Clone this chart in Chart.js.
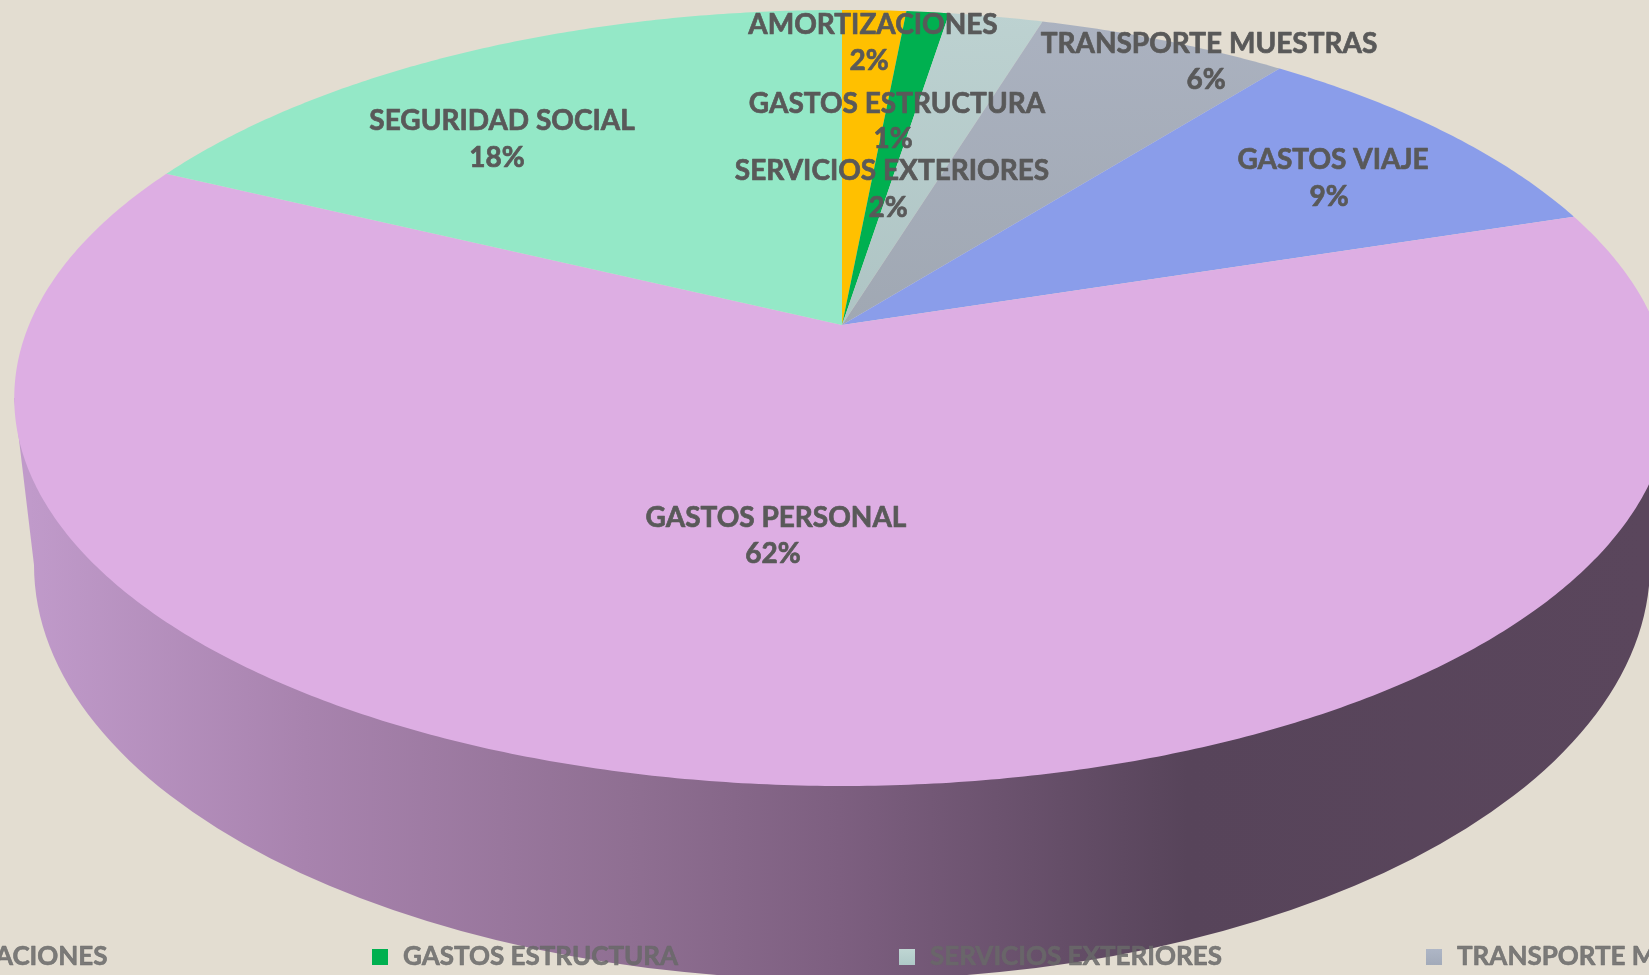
<!DOCTYPE html>
<html>
<head>
<meta charset="UTF-8">
<title>Gastos</title>
<script src="https://cdn.jsdelivr.net/npm/chart.js"></script>
<style>
  html, body { margin: 0; padding: 0; background: #E3DDD1; overflow: hidden; }
  canvas { display: block; }
</style>
</head>
<body>
<canvas id="pie" width="1649" height="975"></canvas>
<script>
const categories = ["AMORTIZACIONES", "GASTOS ESTRUCTURA", "SERVICIOS EXTERIORES", "TRANSPORTE MUESTRAS", "GASTOS VIAJE", "GASTOS PERSONAL", "SEGURIDAD SOCIAL"];
const values = [1.5, 1.0, 2.2, 5.9, 9.45, 62.15, 17.8];
const legendShown = ["AMORTIZACIONES", "GASTOS ESTRUCTURA", "SERVICIOS EXTERIORES", "TRANSPORTE MUESTRAS"];

// hand placed labels, [name x, name y, percent x, percent y]
const labelSpots = [
  [873, 25, 869, 61],
  [897, 104, 893, 139],
  [892, 171, 888, 208],
  [1209, 44, 1206, 80],
  [1333, 160, 1329, 197],
  [776, 518, 773, 554],
  [502, 121, 497, 158]
];

// camera for the tilted disc
const apexX = 842, apexY = 325, spanX = 813, spanY = 374.3, tilt = 0.188;
// lower rim of the wall
const baseY = 565, baseRx = 808, baseRy = 415;

const canvas = document.getElementById("pie");
const ctx0 = canvas.getContext("2d");

const vGrad = (c, y0, y1, a, b) => {
  const g = c.createLinearGradient(0, y0, 0, y1);
  g.addColorStop(0, a);
  g.addColorStop(1, b);
  return g;
};

const colors = [
  "#FFC000",
  "#00B050",
  vGrad(ctx0, 10, 325, "#BDD2D1", "#AEC4C4"),
  vGrad(ctx0, 10, 325, "#ABB2C0", "#A0A8B3"),
  "#8A9DEA",
  "#DDAEE3",
  "#94E8C7"
];
const swatches = [
  "#FFC000",
  "#00B050",
  vGrad(ctx0, 949, 965, "#BFD6D3", "#AFC9C8"),
  vGrad(ctx0, 949, 965, "#AEB6C6", "#A2AAB9")
];

const rimPoint = (theta) => {
  const u = Math.sin(theta), v = -Math.cos(theta);
  const w = 1 - tilt * v;
  return [apexX + spanX * u / w, apexY + spanY * v / w];
};

const drawWall = (ctx) => {
  const g = ctx.createLinearGradient(30, 0, 1649, 0);
  g.addColorStop(0, "#C09ACA");
  g.addColorStop(0.17, "#A883AE");
  g.addColorStop(0.37, "#8F6F92");
  g.addColorStop(0.5, "#7D5F80");
  g.addColorStop(0.715, "#57445A");
  g.addColorStop(1, "#5A465C");
  ctx.beginPath();
  ctx.moveTo(14, 398);
  ctx.ellipse(apexX, baseY, baseRx, baseRy, 0, Math.PI, 0, true);
  ctx.lineTo(1670, 398);
  ctx.closePath();
  ctx.fillStyle = g;
  ctx.fill();
};

// arcs keep the angles the library works out, only the shape is projected
Chart.ArcElement.prototype.draw = function (ctx) {
  const a = this.startAngle + Math.PI / 2;
  const b = this.endAngle + Math.PI / 2;
  if (a < Math.PI && b > Math.PI) drawWall(ctx);
  ctx.beginPath();
  ctx.moveTo(apexX, apexY);
  const steps = Math.max(2, Math.ceil((b - a) * 120));
  for (let i = 0; i <= steps; i++) {
    const p = rimPoint(a + (b - a) * i / steps);
    ctx.lineTo(p[0], p[1]);
  }
  ctx.closePath();
  ctx.fillStyle = this.options.backgroundColor;
  ctx.fill();
};

const heavyText = (ctx, text, x, y, weight) => {
  ctx.lineWidth = weight;
  ctx.strokeStyle = ctx.fillStyle;
  ctx.strokeText(text, x, y);
  ctx.fillText(text, x, y);
};

const textPlugin = {
  id: "textPlugin",
  afterDraw(chart) {
    const ctx = chart.ctx;
    ctx.save();
    ctx.lineJoin = "round";
    ctx.textBaseline = "middle";
    ctx.textAlign = "center";
    ctx.font = "bold 28px Lato";
    ctx.fillStyle = "#595959";
    categories.forEach((name, i) => {
      const s = labelSpots[i];
      heavyText(ctx, name, s[0], s[1], 0.7);
      heavyText(ctx, Math.round(values[i]) + "%", s[2], s[3], 0.7);
    });

    ctx.textAlign = "left";
    ctx.font = "bold 26px Lato";
    legendShown.forEach((name, i) => {
      const x = 372 + (i - 1) * 527;
      ctx.fillStyle = swatches[i];
      ctx.fillRect(x, 949, 16, 16);
      ctx.fillStyle = "rgba(105,105,105,0.85)";
      heavyText(ctx, name, x + 31, 957, 0.6);
    });
    ctx.restore();
  }
};

new Chart(canvas, {
  type: "pie",
  data: {
    labels: categories,
    datasets: [{ data: values, backgroundColor: colors, borderWidth: 0 }]
  },
  options: {
    responsive: false,
    animation: false,
    events: [],
    plugins: { legend: { display: false }, tooltip: { enabled: false } }
  },
  plugins: [textPlugin]
});
</script>
</body>
</html>
